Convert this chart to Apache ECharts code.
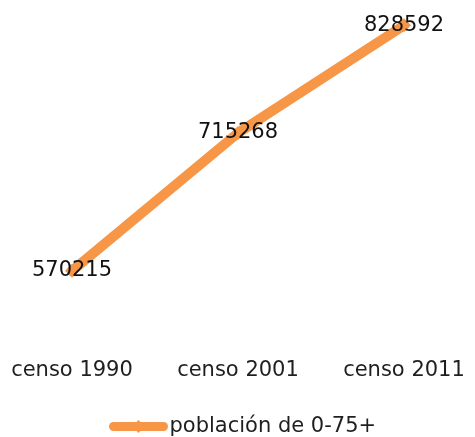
<!DOCTYPE html>
<html>
<head>
<meta charset="utf-8">
<script src="https://cdn.jsdelivr.net/npm/echarts@6/dist/echarts.min.js"></script>
<style>
  html, body { margin: 0; padding: 0; background: #fff; }
  #chart { width: 475px; height: 437px; }
</style>
</head>
<body>
<div id="chart"></div>
<script>
// datos del gráfico
const categorias = ["censo 1990", "censo 2001", "censo 2011"];
const poblacion = [570215, 715268, 828592];
const nombreSerie = "población de 0-75+";

const naranja = "#F79646";
const fuente = "DejaVu Sans";

var myChart = echarts.init(document.getElementById("chart"));

var option = {
  animation: false,
  textStyle: { fontFamily: fuente },
  grid: {
    left: 72,
    right: 71,
    top: 5,
    bottom: 147,
  },
  legend: {
    data: [nombreSerie],
    left: 104,
    top: 411,
    itemWidth: 50,
    itemHeight: 16,
    itemGap: 5,
    lineStyle: { width: 9, cap: "round" },
    textStyle: { color: "#1f1f1f", fontSize: 21, fontFamily: fuente, padding: [0, 0, 0, 1] },
  },
  xAxis: {
    type: "category",
    data: categorias,
    boundaryGap: false,
    axisLine: { show: false },
    axisTick: { show: false },
    axisLabel: {
      margin: 70,
      color: "#1f1f1f",
      fontSize: 21,
      fontFamily: fuente,
    },
  },
  yAxis: {
    type: "value",
    min: 550000,
    max: 850000,
    show: false,
    splitLine: { show: false },
  },
  series: [
    {
      name: nombreSerie,
      type: "line",
      data: poblacion,
      symbol: "diamond",
      symbolSize: 14,
      lineStyle: { color: naranja, width: 10, cap: "round" },
      itemStyle: { color: naranja },
      label: {
        show: true,
        position: "inside",
        color: "#111",
        fontSize: 21,
        fontFamily: fuente,
      },
    },
  ],
};

myChart.setOption(option);
</script>
</body>
</html>
